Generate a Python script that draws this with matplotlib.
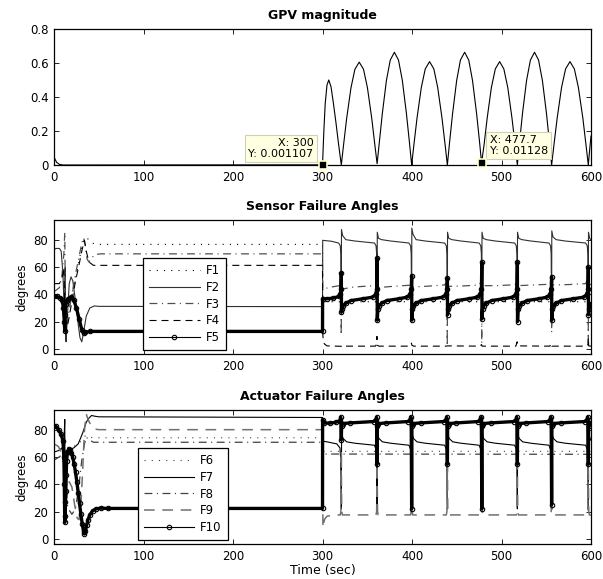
import numpy as np
import matplotlib.pyplot as plt
from matplotlib.lines import Line2D

plt.rcParams['font.family'] = ['DejaVu Sans']

# ---------------- GPV magnitude ----------------
gpv_t = [0, 1, 3, 6, 10, 300,
         301.5, 303, 305, 307, 309.5, 312, 315, 318, 321,
         323.4, 327, 331.8, 336.2, 341, 345.8, 350.2, 355, 358.6, 361,
         363.3, 366.8, 371.4, 375.7, 380.3, 384.9, 389.2, 393.8, 397.3, 399.6,
         402, 405.6, 410.4, 414.8, 419.6, 424.4, 428.7, 433.5, 437.1, 439.5,
         441.8, 445.3, 449.9, 454.1, 458.8, 463.4, 467.6, 472.2, 475.7, 477.7,
         480.4, 484, 488.7, 493.1, 497.9, 502.6, 507, 511.7, 515.3, 517.7,
         520, 523.4, 528, 532.3, 536.9, 541.4, 545.7, 550.3, 553.7, 556,
         558.5, 562.2, 567.1, 571.6, 576.5, 581.4, 585.9, 590.9, 594.5, 597,
         598.5, 600]
gpv_v = [0.05, 0.035, 0.015, 0.004, 0.0, 0.001107,
         0.2, 0.36, 0.47, 0.50, 0.46, 0.37, 0.25, 0.12, 0.0,
         0.113, 0.275, 0.454, 0.563, 0.605, 0.563, 0.454, 0.275, 0.113, 0.008,
         0.124, 0.301, 0.497, 0.617, 0.663, 0.617, 0.497, 0.301, 0.124, 0.0,
         0.114, 0.276, 0.456, 0.565, 0.608, 0.565, 0.456, 0.276, 0.114, 0.0,
         0.124, 0.301, 0.497, 0.617, 0.663, 0.617, 0.497, 0.301, 0.124, 0.01128,
         0.114, 0.276, 0.456, 0.565, 0.608, 0.565, 0.456, 0.276, 0.114, 0.0,
         0.124, 0.301, 0.497, 0.617, 0.663, 0.617, 0.497, 0.301, 0.124, 0.0,
         0.114, 0.276, 0.456, 0.565, 0.608, 0.565, 0.456, 0.276, 0.114, 0.0,
         0.09, 0.17]
tip1 = (300, 0.001107)
tip2 = (477.7, 0.01128)

# ---------------- Sensor failure angles ----------------
f1_t = [0, 8, 10, 12, 14, 18, 23, 28, 32, 35, 38, 42, 48, 300, 300.3, 600]
f1_v = [34, 34, 30, 38, 28, 35, 48, 65, 78, 82, 81, 78, 77, 77, 34.6, 34.6]

f2_t = [0, 2, 6, 8, 10, 11, 12, 12.5, 13, 13.5, 15, 17, 19, 21, 24, 27, 29, 31, 33, 36, 40, 45, 50, 300,
        300.2, 310, 318, 319.8, 320.5, 320.8, 321,
        321.2, 322.5, 326, 336, 358, 359.8, 360.5, 360.8, 361,
        361.2, 362.5, 366, 376, 396.6, 398.4, 399.1, 399.4, 399.6,
        399.8, 401.1, 404.6, 414.6, 436.5, 438.3, 439, 439.3, 439.5,
        439.7, 441, 444.5, 454.5, 475, 476.8, 477.5, 477.8, 478,
        478.2, 479.5, 483, 493, 514.7, 516.5, 517.2, 517.5, 517.7,
        517.9, 519.2, 522.7, 532.7, 553, 554.8, 555.5, 555.8, 556,
        556.2, 557.5, 561, 571, 594, 595.8, 596.5, 596.8, 597,
        597.2, 598.5, 600]
f2_v = [73, 74, 74, 72, 55, 35, 30, 60, 8, 5, 25, 48, 53, 50, 35, 18, 8, 5, 12, 24, 30, 31.5, 31.2, 31,
        80, 79.3, 78, 76, 70, 40, 28,
        88, 83.5, 80.5, 79.5, 78, 76, 70, 40, 28,
        86, 81.5, 80.5, 79.5, 78, 76, 70, 40, 28,
        89, 84.5, 80.5, 79.5, 78, 76, 70, 40, 28,
        86, 81.5, 80.5, 79.5, 78, 76, 70, 40, 28,
        86, 81.5, 80.5, 79.5, 78, 76, 70, 40, 28,
        86, 81.5, 80.5, 79.5, 78, 76, 70, 40, 28,
        87, 82.5, 80.5, 79.5, 78, 76, 70, 40, 28,
        86, 81.5, 80.5]

f3_t = [0, 6, 9, 11, 12, 12.6, 13.5, 16, 20, 24, 28, 31, 33, 35, 37, 39, 42, 46, 52, 300,
        300.2, 310, 319, 320.6, 320.9, 321.2, 322, 335, 358, 360.5, 361, 361.4, 375, 397,
        399.3, 399.6, 400, 415, 436, 439.2, 439.4, 439.7, 455, 475, 477.7, 477.9, 478.2,
        495, 515, 517.5, 517.7, 518, 535, 553, 555.8, 556, 556.3, 575, 594, 596.8, 597, 597.3, 600]
f3_v = [42, 45, 55, 70, 86, 40, 15, 25, 40, 55, 68, 78, 82, 76, 66, 64, 67, 69.5, 70, 70,
        44, 45.5, 46.5, 49, 10, 40, 44, 45.5, 46.5, 48, 50, 45, 45.8, 46.8,
        48.5, 52, 45.5, 46, 47, 49, 2, 46, 46.2, 47, 50, 4, 46.5,
        46.5, 47.2, 49, 28, 46.5, 47, 47.5, 50, 12, 47, 47.3, 48, 52, 5, 47, 47.5]

f4_t = [0, 6, 9, 11, 12, 13, 16, 20, 24, 28, 31, 34, 36, 39, 44, 50, 300,
        300.2, 300.8, 302, 305, 321, 322, 324, 359, 360.4, 360.8, 361.2, 363, 398, 399.4, 399.8,
        402, 438, 439.5, 476, 477.7, 478.3, 516, 517.5, 518, 554, 555.8, 556.3, 595, 596.6,
        597, 597.4, 600]
f4_v = [48, 48, 52, 60, 30, 12, 20, 35, 50, 62, 72, 80, 72, 64, 61.5, 61.5, 61.5,
        12, 6, 3.5, 2, 1.7, 2.5, 1.8, 1.8, 3, 9, 2.5, 1.8, 1.8, 4, 2.5,
        1.8, 1.8, 2, 1.8, 3, 1.8, 1.8, 5, 2, 1.8, 4, 1.8, 1.8, 3,
        8, 2, 1.8]

f5_t = [0, 3, 7, 9, 10.5, 11.5, 12, 12.5, 13, 14, 16, 19, 22, 25, 28, 31, 33, 35, 40, 300,
        300.1, 305, 312, 318, 320, 320.6,
        321, 321.2, 321.8, 323, 326, 332, 345, 356, 359.5, 360.6,
        361, 361.2, 361.8, 363, 366, 372, 385, 394.6, 398.1, 399.2,
        399.6, 399.8, 400.4, 401.6, 404.6, 410.6, 423.6, 434.5, 438, 439.1,
        439.5, 439.7, 440.3, 441.5, 444.5, 450.5, 463.5, 473, 476.5, 477.6,
        478, 478.2, 478.8, 480, 483, 489, 502, 512.7, 516.2, 517.3,
        517.7, 517.9, 518.5, 519.7, 522.7, 528.7, 541.7, 551, 554.5, 555.6,
        556, 556.2, 556.8, 558, 561, 567, 580, 592, 595.5, 596.6,
        597, 597.2, 597.8, 599, 600]
f5_v = [39, 38.5, 37.5, 36, 30, 20, 13, 25, 33, 35, 37, 38, 36, 30, 22, 14, 11.5, 12, 12.7, 12.7,
        37, 36.8, 37.3, 38.5, 40.5, 44,
        56, 27, 29, 31.5, 33.5, 35.5, 36.8, 38, 40, 44,
        67, 21, 29, 31.5, 33.5, 35.5, 36.8, 38, 40, 44,
        54, 21, 29, 31.5, 33.5, 35.5, 36.8, 38, 40, 44,
        52, 25, 29, 31.5, 33.5, 35.5, 36.8, 38, 40, 44,
        64, 22, 29, 31.5, 33.5, 35.5, 36.8, 38, 40, 44,
        64, 20, 29, 31.5, 33.5, 35.5, 36.8, 38, 40, 44,
        53, 21, 29, 31.5, 33.5, 35.5, 36.8, 38, 40, 44,
        60, 25, 29, 31.5, 33]

# ---------------- Actuator failure angles ----------------
f6_t = [0, 8, 12, 18, 25, 30, 35, 38, 45, 300, 300.2, 600]
f6_v = [67, 66, 68, 67, 69, 72, 76, 75, 74.5, 74.5, 64.5, 64.5]

f7_t = [0, 5, 9, 11, 12, 12.5, 13, 15, 18, 22, 27, 32, 36, 39, 42, 45, 50, 300,
        300.2, 305, 316, 319.5, 320.4, 320.8,
        321, 321.3, 323, 327, 336, 358, 359.8, 360.5, 360.8,
        361, 361.3, 363, 367, 376, 396.6, 398.4, 399.1, 399.4,
        399.6, 399.9, 401.6, 405.6, 414.6, 436.5, 438.3, 439, 439.3,
        439.5, 439.8, 441.5, 445.5, 454.5, 475, 476.8, 477.5, 477.8,
        478, 478.3, 480, 484, 493, 514.7, 516.5, 517.2, 517.5,
        517.7, 518, 519.7, 523.7, 532.7, 553, 554.8, 555.5, 555.8,
        556, 556.3, 558, 562, 571, 594, 595.8, 596.5, 596.8,
        597, 597.3, 599, 600]
f7_v = [64, 65, 67, 69, 88, 20, 55, 62, 66, 67, 70, 78, 86, 89, 91, 90.5, 90, 89.5,
        72, 71.5, 70, 67, 58, 35,
        22, 78, 74, 71.5, 70.5, 69, 66, 58, 35,
        22, 78, 74, 71.5, 70.5, 69, 66, 58, 35,
        22, 78, 74, 71.5, 70.5, 69, 66, 58, 35,
        22, 78, 74, 71.5, 70.5, 69, 66, 58, 35,
        22, 78, 74, 71.5, 70.5, 69, 66, 58, 35,
        22, 78, 74, 71.5, 70.5, 69, 66, 58, 35,
        22, 78, 74, 71.5, 70.5, 69, 66, 58, 35,
        22, 78, 74, 72.5]

f8_t = [0, 5, 9, 11, 12, 13, 16, 20, 24, 28, 31, 34, 36, 39, 44, 300, 300.2, 600]
f8_v = [58, 60, 62, 64, 40, 30, 22, 18, 22, 40, 58, 70, 75, 73, 71.2, 71.2, 62.5, 62.3]

f9_t = [0, 5, 9, 11, 12, 14, 17, 20, 23, 26, 28, 30, 32, 34, 36, 38, 41, 45, 50, 300,
        300.2, 300.5, 301, 302.5, 305, 310,
        319.8, 320.5, 320.8, 321, 321.2, 321.5, 322.2,
        359.8, 360.5, 360.8, 361, 361.2, 361.5, 362.2,
        398.4, 399.1, 399.4, 399.6, 399.8, 400.1, 400.8,
        438.3, 439, 439.3, 439.5, 439.7, 440, 440.7,
        476.8, 477.5, 477.8, 478, 478.2, 478.5, 479.2,
        516.5, 517.2, 517.5, 517.7, 517.9, 518.2, 518.9,
        554.8, 555.5, 555.8, 556, 556.2, 556.5, 557.2,
        595.8, 596.5, 596.8, 597, 597.2, 597.5, 598.2, 600]
f9_v = [70, 68, 62, 55, 40, 30, 42, 38, 25, 15, 14, 25, 50, 80, 92, 88, 84, 81, 80.5, 80.5,
        30, 8, 11, 14.5, 16.5, 17.2,
        17.5, 20, 40, 65, 40, 20, 17.5,
        17.5, 20, 40, 62, 40, 20, 17.5,
        17.5, 20, 40, 65, 40, 20, 17.5,
        17.5, 20, 40, 63, 40, 20, 17.5,
        17.5, 20, 40, 65, 40, 20, 17.5,
        17.5, 20, 40, 62, 40, 20, 17.5,
        17.5, 20, 40, 65, 40, 20, 17.5,
        17.5, 20, 40, 63, 40, 20, 17.5, 17.3]

f10_t = [0, 2, 5, 8, 10, 11, 11.5, 12, 12.4, 12.8, 13.2, 13.6, 14, 15, 16.5, 18, 19.5, 21, 22.5,
         24, 25.5, 27, 28.5, 30, 31.5, 33, 34, 35, 36.5, 38, 40, 43, 47, 52, 60, 300,
         300.1, 302, 308, 315, 319, 320.5,
         321, 321.3, 322.5, 331, 357, 359.5, 360.5,
         361, 361.3, 362.5, 371, 395.6, 398.1, 399.1,
         399.6, 399.9, 401.1, 409.6, 435.5, 438, 439,
         439.5, 439.8, 441, 449.5, 474, 476.5, 477.5,
         478, 478.3, 479.5, 488, 513.7, 516.2, 517.2,
         517.7, 518, 519.2, 527.7, 552, 554.5, 555.5,
         556, 556.3, 557.5, 566, 593, 595.5, 596.5,
         597, 597.3, 598.5, 600]
f10_v = [83, 83, 80.5, 77, 72, 60, 40, 12, 17, 27, 35, 47, 57, 64, 66, 65.5, 63, 60, 55,
         49, 42, 34, 26, 18, 11, 5, 3.5, 5.5, 10, 14, 17.5, 20.5, 22, 22.5, 22.3, 22.3,
         88, 85.5, 85.3, 86, 87, 89.5,
         73, 83, 85, 85.5, 86.5, 88, 89.5,
         55, 83, 85, 85.5, 86.5, 88, 89.5,
         22, 83, 85, 85.5, 86.5, 88, 89.5,
         55, 83, 85, 85.5, 86.5, 88, 89.5,
         22, 83, 85, 85.5, 86.5, 88, 89.5,
         55, 83, 85, 85.5, 86.5, 88, 89.5,
         25, 83, 85, 85.5, 86.5, 88, 89.5,
         55, 83, 85, 85.3]

# line styles, MATLAB-like
DOT = (0, (1, 5.5))
DASH = (0, (6.3, 4.5))
DASHDOT = (0, (6.3, 3.6, 0.9, 3.6))
DASH_GRAY = (0, (7, 5))

sensor_styles = [
    dict(color='black', ls=DOT, lw=0.8),
    dict(color='#303030', ls='-', lw=0.8),
    dict(color='#505050', ls=DASHDOT, lw=0.9),
    dict(color='black', ls=DASH, lw=0.8),
    dict(color='black', ls='-', lw=2.4, marker='o', ms=3.2, mfc='none', mew=0.8),
]
actuator_styles = [
    dict(color='#404040', ls=DOT, lw=0.8),
    dict(color='black', ls='-', lw=0.8),
    dict(color='#404040', ls=DASHDOT, lw=0.9),
    dict(color='#707070', ls=DASH_GRAY, lw=1.1),
    dict(color='black', ls='-', lw=2.4, marker='o', ms=3.2, mfc='none', mew=0.8),
]


def style_axes(ax, yticks):
    ax.set_xlim(0, 600)
    ax.set_xticks(np.arange(0, 601, 100))
    ax.set_yticks(yticks)
    ax.tick_params(direction='in', top=True, right=True, length=3.5, width=0.6,
                   labelsize=8.5, pad=4)
    for s in ax.spines.values():
        s.set_linewidth(0.9)


def add_legend(ax, styles, labels, anchor):
    handles = []
    for st in styles:
        h = dict(st)
        if 'marker' in h:
            h['lw'] = 0.8
            h['markevery'] = [1]
            handles.append(Line2D([0, 0.5, 1], [0, 0, 0], **h))
        else:
            handles.append(Line2D([0, 1], [0, 0], **h))
    leg = ax.legend(handles, labels, loc='upper left', bbox_to_anchor=anchor,
                    borderaxespad=0, fontsize=8.5, handlelength=4.3,
                    handletextpad=0.5, labelspacing=0.32, borderpad=0.5,
                    fancybox=False, framealpha=1, edgecolor='black')
    leg.get_frame().set_linewidth(0.9)
    return leg


fig = plt.figure(figsize=(6.03, 5.79), dpi=100)
ax1 = fig.add_axes([0.0896, 0.715, 0.8905, 0.235])
ax2 = fig.add_axes([0.0896, 0.3886, 0.8905, 0.2314])
ax3 = fig.add_axes([0.0896, 0.0604, 0.8905, 0.2314])

# top panel
ax1.plot(gpv_t, gpv_v, color='black', lw=0.8)
ax1.set_ylim(0, 0.8)
style_axes(ax1, [0, 0.2, 0.4, 0.6, 0.8])
ax1.set_yticklabels(['0', '0.2', '0.4', '0.6', '0.8'])
ax1.set_title('GPV magnitude', fontsize=9, fontweight='bold', pad=7)

# data tips
tip_box = dict(boxstyle='square,pad=0.3', fc='#ffffe1', ec='#d0d0b8', lw=0.8)
for (tx, ty), txt, off, ha in [(tip1, 'X: 300\nY: 0.001107', (-9, 6), 'right'),
                               (tip2, 'X: 477.7\nY: 0.01128', (8, 7), 'left')]:
    ax1.plot([tx], [ty], marker='s', ms=5.5, mfc='black', mec='#ffffc8', mew=1.2,
             ls='none', zorder=6, clip_on=False)
    ax1.annotate(txt, xy=(tx, ty), xytext=off, textcoords='offset pixels',
                 ha=ha, va='bottom', multialignment=ha, fontsize=8,
                 linespacing=1.1, bbox=tip_box, zorder=5)

# middle panel
sensor_data = [(f1_t, f1_v), (f2_t, f2_v), (f3_t, f3_v), (f4_t, f4_v), (f5_t, f5_v)]
for (t, v), st in zip(sensor_data, sensor_styles):
    ax2.plot(t, v, **st)
ax2.set_ylim(-4, 95)
style_axes(ax2, [0, 20, 40, 60, 80])
ax2.set_ylabel('degrees', fontsize=8.5, labelpad=4)
ax2.set_title('Sensor Failure Angles', fontsize=9, fontweight='bold', pad=7)
add_legend(ax2, sensor_styles, ['F1', 'F2', 'F3', 'F4', 'F5'], (0.166, 0.716))

# bottom panel
act_data = [(f6_t, f6_v), (f7_t, f7_v), (f8_t, f8_v), (f9_t, f9_v), (f10_t, f10_v)]
for (t, v), st in zip(act_data, actuator_styles):
    ax3.plot(t, v, **st)
ax3.set_ylim(-4, 95)
style_axes(ax3, [0, 20, 40, 60, 80])
ax3.set_ylabel('degrees', fontsize=8.5, labelpad=4)
ax3.set_xlabel('Time (sec)', fontsize=9, labelpad=1)
ax3.set_title('Actuator Failure Angles', fontsize=9, fontweight='bold', pad=7)
add_legend(ax3, actuator_styles, ['F6', 'F7', 'F8', 'F9', 'F10'], (0.156, 0.716))

fig.savefig('out.png', dpi=100)
